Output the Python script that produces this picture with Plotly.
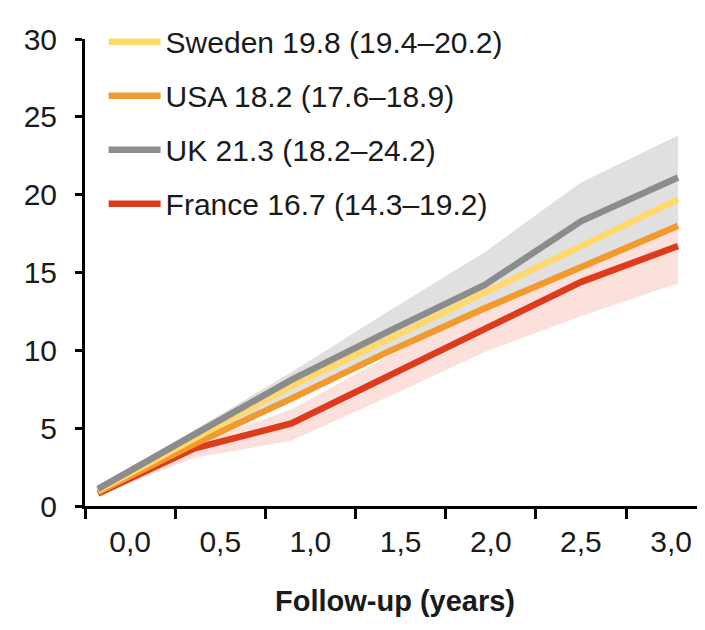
import plotly.graph_objects as go

# Data (years of follow-up)
years = [0.0, 0.5, 1.0, 1.5, 2.0, 2.5, 3.0]
sweden = [1.0, 4.4, 7.7, 10.7, 13.7, 16.8, 19.7]
usa = [0.9, 4.0, 6.9, 9.9, 12.7, 15.4, 18.0]
uk = [1.1, 4.6, 8.1, 11.2, 14.2, 18.3, 21.1]
france = [0.8, 3.7, 5.3, 8.3, 11.3, 14.4, 16.7]
uk_lo = [1.0, 4.1, 7.1, 10.0, 12.5, 15.4, 18.2]
uk_hi = [1.2, 4.9, 8.6, 12.5, 16.3, 20.8, 23.8]
fr_lo = [0.7, 3.1, 4.2, 7.0, 9.9, 12.2, 14.3]
fr_hi = [0.9, 4.0, 6.2, 9.6, 12.8, 16.0, 19.2]

names = {
    "Sweden": "Sweden 19.8 (19.4–20.2)",
    "USA": "USA 18.2 (17.6–18.9)",
    "UK": "UK 21.3 (18.2–24.2)",
    "France": "France 16.7 (14.3–19.2)",
}
x_labels = ["0,0", "0,5", "1,0", "1,5", "2,0", "2,5", "3,0"]
y_ticks = [0, 5, 10, 15, 20, 25, 30]

FONT = "Liberation Sans, Arial, sans-serif"
C_SWE = "#FFD86E"
C_USA = "#F29A2E"
C_UK = "#8C8C8C"
C_FR = "#DE3A1C"

fig = go.Figure()

# France CI band
fig.add_trace(go.Scatter(x=years, y=fr_hi, mode="lines", line=dict(width=0),
                         showlegend=False, hoverinfo="skip"))
fig.add_trace(go.Scatter(x=years, y=fr_lo, mode="lines", line=dict(width=0),
                         fill="tonexty", fillcolor="#FBE0DB",
                         showlegend=False, hoverinfo="skip"))
# UK CI band
fig.add_trace(go.Scatter(x=years, y=uk_hi, mode="lines", line=dict(width=0),
                         showlegend=False, hoverinfo="skip"))
fig.add_trace(go.Scatter(x=years, y=uk_lo, mode="lines", line=dict(width=0),
                         fill="tonexty", fillcolor="#E0E0E0",
                         showlegend=False, hoverinfo="skip"))

# Lines
fig.add_trace(go.Scatter(x=years, y=france, mode="lines", name=names["France"],
                         line=dict(color=C_FR, width=6.5), legendrank=4, legendgroup="fr"))
fig.add_trace(go.Scatter(x=years, y=usa, mode="lines", name=names["USA"],
                         line=dict(color=C_USA, width=6.5), legendrank=2, legendgroup="us"))
fig.add_trace(go.Scatter(x=years, y=sweden, mode="lines", name=names["Sweden"],
                         line=dict(color=C_SWE, width=6.5), legendrank=1, legendgroup="se"))
fig.add_trace(go.Scatter(x=years, y=uk, mode="lines", name=names["UK"],
                         line=dict(color=C_UK, width=6.5), legendrank=3, legendgroup="uk"))

# x range chosen so that the data span sits where the reference draws it
x_range = [-0.0672, 3.1397]
lab_range = [-0.5, 6.376]

fig.update_layout(
    width=705, height=630,
    margin=dict(l=77, r=8, t=17, b=132),
    plot_bgcolor="white", paper_bgcolor="white",
    font=dict(family=FONT, size=30, color="#1a1a1a"),
    showlegend=True,
    legend=dict(x=0.03, y=1.05, xanchor="left", yanchor="top",
                bgcolor="rgba(0,0,0,0)", traceorder="grouped", itemwidth=52,
                tracegroupgap=12, font=dict(size=30)),
    xaxis=dict(range=x_range, showgrid=False, zeroline=False,
               showline=True, linecolor="black", linewidth=3,
               ticks="", showticklabels=False),
    xaxis2=dict(range=lab_range, overlaying="x", anchor="y", side="bottom",
                showgrid=False, zeroline=False, showline=False,
                tickmode="array", tickvals=list(range(len(x_labels))),
                ticktext=x_labels, ticks="", ticklabelstandoff=15,
                minor=dict(ticks="outside", tickmode="linear", tick0=-0.5, dtick=1,
                           ticklen=12, tickwidth=3, tickcolor="black", showgrid=False),
                title=dict(text="<b>Follow-up (years)</b>", standoff=33,
                           font=dict(size=29))),
    yaxis=dict(range=[0, 30], tickvals=y_ticks, showgrid=False, zeroline=False,
               showline=True, linecolor="black", linewidth=3,
               ticks="outside", ticklen=7, tickwidth=3, tickcolor="black",
               ticklabelstandoff=12),
)

# a dummy trace to activate xaxis2
fig.add_trace(go.Scatter(x=[0], y=[None], xaxis="x2", showlegend=False, hoverinfo="skip"))

fig.write_html("out.html")
